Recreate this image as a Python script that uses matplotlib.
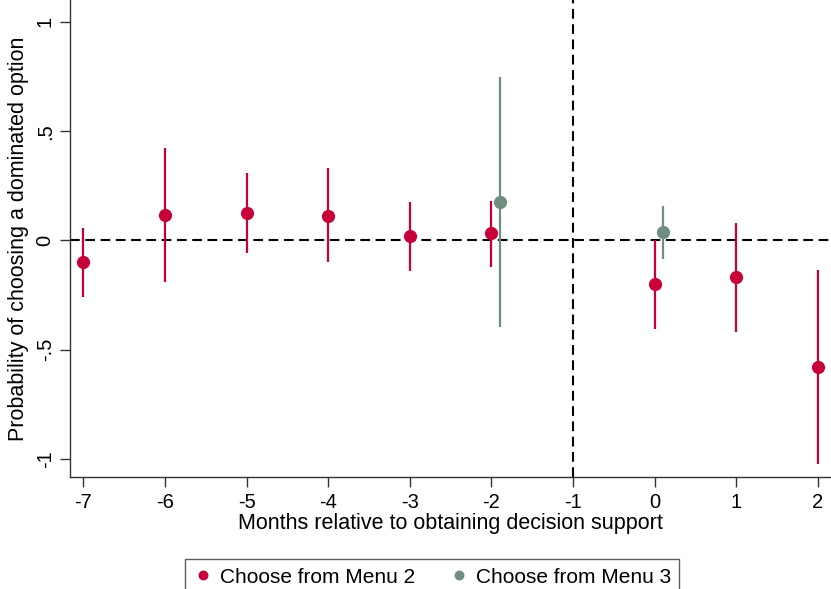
import matplotlib
matplotlib.use('Agg')
import matplotlib.pyplot as plt
import numpy as np

plt.rcParams['font.family'] = ['Liberation Sans', 'DejaVu Sans']
plt.rcParams['lines.scale_dashes'] = False

# event-study estimates, menu 2
months_m2 = [-7, -6, -5, -4, -3, -2, 0, 1, 2]
coef_m2 = [-0.10, 0.115, 0.124, 0.112, 0.021, 0.033, -0.20, -0.169, -0.58]
lo_m2 = [-0.257, -0.191, -0.059, -0.098, -0.138, -0.12, -0.404, -0.417, -1.023]
hi_m2 = [0.059, 0.422, 0.308, 0.332, 0.175, 0.181, 0.002, 0.079, -0.136]

# menu 3 (shifted slightly right)
months_m3 = [-1.9, 0.1]
coef_m3 = [0.175, 0.037]
lo_m3 = [-0.397, -0.086]
hi_m3 = [0.747, 0.159]

xticks = [-7, -6, -5, -4, -3, -2, -1, 0, 1, 2]
yticks = [-1, -0.5, 0, 0.5, 1]
ytick_labels = ['-1', '-.5', '0', '.5', '1']

red = '#c8003a'
green = '#6e8e80'

fig = plt.figure(figsize=(8.31, 5.89), dpi=100)
ax = fig.add_axes([0.0842, 0.1896, 0.9158, 0.8104])

ax.axhline(0, color='black', lw=1.5, dashes=(7, 4), zorder=1)
ax.axvline(-1, color='black', lw=1.5, dashes=(7, 4), zorder=1)

ax.vlines(months_m2, lo_m2, hi_m2, color=red, lw=1.6, zorder=2)
ax.vlines(months_m3, lo_m3, hi_m3, color=green, lw=1.6, zorder=2)
ax.plot(months_m2, coef_m2, 'o', color=red, ms=9.5, mec='none', zorder=3,
        label='Choose from Menu 2')
ax.plot(months_m3, coef_m3, 'o', color=green, ms=9.5, mec='none', zorder=3,
        label='Choose from Menu 3')

ax.set_xlim(-7.163, 2.16)
ax.set_ylim(-1.084, 1.10)
ax.set_xticks(xticks)
ax.set_xticklabels([str(t) for t in xticks])
ax.set_yticks(yticks)
ax.set_yticklabels(ytick_labels, rotation=90, va='center')

ax.spines['top'].set_visible(False)
ax.spines['right'].set_visible(False)
for s in ['left', 'bottom']:
    ax.spines[s].set_linewidth(1.0)
    ax.spines[s].set_color('#333333')
ax.tick_params(direction='out', length=7, width=1.0, color='#333333',
               labelsize=14.5, pad=4)

ax.set_xlabel('Months relative to obtaining decision support', fontsize=15.5, labelpad=1)
ax.set_ylabel('Probability of choosing a dominated option', fontsize=15.5, labelpad=5)

leg = fig.legend(loc='upper center', bbox_to_anchor=(432 / 831, 1 - 549 / 589),
                 ncol=2, fontsize=15, frameon=True, fancybox=False,
                 edgecolor='#333333', handletextpad=0.3, columnspacing=1.6,
                 handlelength=1.0, borderpad=0.4, markerscale=0.75)
leg.get_frame().set_linewidth(1.0)

fig.savefig('out.png', dpi=100)
